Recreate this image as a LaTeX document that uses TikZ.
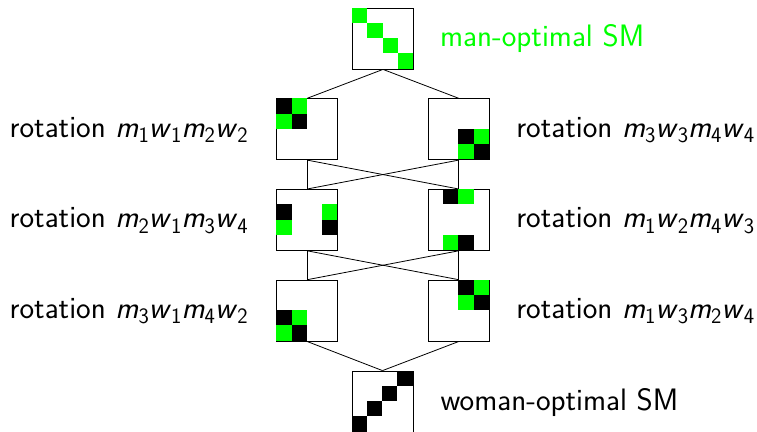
\documentclass[tikz,border=0pt]{standalone}
\usetikzlibrary{calc}
\definecolor{brightgreen}{RGB}{0,255,0}
% italic sans letter with an upright sans index
\newcommand\rv[2]{\textsl{#1}\raisebox{-0.17em}{\fontsize{22}{22}\selectfont #2}}
\newcommand\cellsize{15.25}
% \cell{node}{row}{column}{colour}
\newcommand\cell[4]{\fill[#4] ([shift={(#3*\cellsize,-#2*\cellsize)}]#1.north west) rectangle ++(\cellsize,-\cellsize);}
\begin{document}
\begin{tikzpicture}[x=1pt,y=1pt,
  matbox/.style={draw=black, line width=0.8pt, fill=white, minimum width=61pt, minimum height=61pt, inner sep=0pt},
  lab/.style={inner sep=0pt, font=\sffamily\fontsize{31}{37}\selectfont},
  link/.style={draw=black, line width=0.8pt}]
\useasboundingbox (0,0) rectangle (757,-431);

% rows of the lattice
\node[matbox] (top) at (383,-38.5) {};
\node[matbox] (l2) at (307.2,-129.2) {};
\node[matbox] (r2) at (458.7,-129.2) {};
\node[matbox] (l3) at (307.2,-219.9) {};
\node[matbox] (r3) at (458.7,-219.9) {};
\node[matbox] (l4) at (307.2,-310.6) {};
\node[matbox] (r4) at (458.7,-310.6) {};
\node[matbox] (bot) at (382.5,-401.5) {};

% connectors
\draw[link] (top.south) -- (l2.north);
\draw[link] (top.south) -- (r2.north);
\draw[link] (l2.south) -- (l3.north);
\draw[link] (l2.south) -- (r3.north);
\draw[link] (r2.south) -- (r3.north);
\draw[link] (r2.south) -- (l3.north);
\draw[link] (l3.south) -- (l4.north);
\draw[link] (l3.south) -- (r4.north);
\draw[link] (r3.south) -- (r4.north);
\draw[link] (r3.south) -- (l4.north);
\draw[link] (l4.south) -- (bot.north);
\draw[link] (r4.south) -- (bot.north);

% cells of the matrices
\cell{top}{0}{0}{brightgreen}\cell{top}{1}{1}{brightgreen}\cell{top}{2}{2}{brightgreen}\cell{top}{3}{3}{brightgreen}

\cell{l2}{0}{0}{black}\cell{l2}{0}{1}{brightgreen}\cell{l2}{1}{0}{brightgreen}\cell{l2}{1}{1}{black}
\cell{r2}{2}{2}{black}\cell{r2}{2}{3}{brightgreen}\cell{r2}{3}{2}{brightgreen}\cell{r2}{3}{3}{black}

\cell{l3}{1}{0}{black}\cell{l3}{2}{0}{brightgreen}\cell{l3}{1}{3}{brightgreen}\cell{l3}{2}{3}{black}
\cell{r3}{0}{1}{black}\cell{r3}{0}{2}{brightgreen}\cell{r3}{3}{1}{brightgreen}\cell{r3}{3}{2}{black}

\cell{l4}{2}{0}{black}\cell{l4}{2}{1}{brightgreen}\cell{l4}{3}{0}{brightgreen}\cell{l4}{3}{1}{black}
\cell{r4}{0}{2}{black}\cell{r4}{0}{3}{brightgreen}\cell{r4}{1}{2}{brightgreen}\cell{r4}{1}{3}{black}

\cell{bot}{0}{3}{black}\cell{bot}{1}{2}{black}\cell{bot}{2}{1}{black}\cell{bot}{3}{0}{black}

% labels
\node[lab, text=brightgreen, anchor=base west] (ttop) at ($(top.east)+(26,-7.5)$) {man-optimal SM};
\node[lab, anchor=base west] (tbot) at ($(bot.east)+(27,-8.5)$) {woman-optimal SM};
\node[lab, anchor=base east] (tl2) at ($(l2.west)+(-28.5,-8.5)$) {rotation \rv{m}{1}\rv{w}{1}\rv{m}{2}\rv{w}{2}};
\node[lab, anchor=base west] (tr2) at ($(r2.east)+(26.5,-8)$) {rotation \rv{m}{3}\rv{w}{3}\rv{m}{4}\rv{w}{4}};
\node[lab, anchor=base east] (tl3) at ($(l3.west)+(-28.5,-8)$) {rotation \rv{m}{2}\rv{w}{1}\rv{m}{3}\rv{w}{4}};
\node[lab, anchor=base west] (tr3) at ($(r3.east)+(26.5,-8)$) {rotation \rv{m}{1}\rv{w}{2}\rv{m}{4}\rv{w}{3}};
\node[lab, anchor=base east] (tl4) at ($(l4.west)+(-28.5,-8)$) {rotation \rv{m}{3}\rv{w}{1}\rv{m}{4}\rv{w}{2}};
\node[lab, anchor=base west] (tr4) at ($(r4.east)+(26.5,-8)$) {rotation \rv{m}{1}\rv{w}{3}\rv{m}{2}\rv{w}{4}};
\end{tikzpicture}
\end{document}
